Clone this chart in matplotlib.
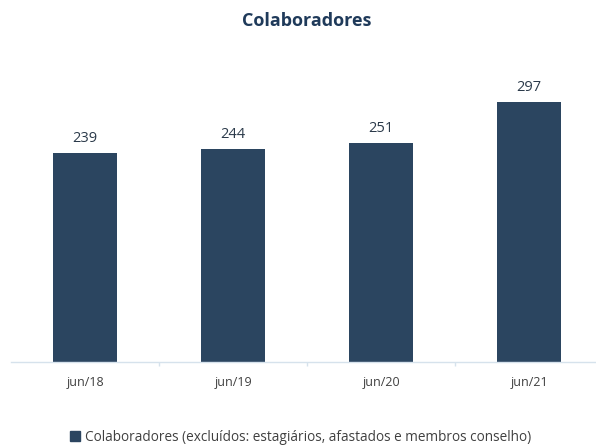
import matplotlib
matplotlib.use("Agg")
import matplotlib.pyplot as plt
from matplotlib.patches import Patch

# dados
categorias = ['jun/18', 'jun/19', 'jun/20', 'jun/21']
colaboradores = [239, 244, 251, 297]

cor_barra = '#2B4560'
cor_texto = '#404040'

plt.rcParams['font.family'] = ['Open Sans', 'DejaVu Sans']

fig = plt.figure(figsize=(5.96, 4.48), dpi=100)
ax = fig.add_axes([11 / 596, 1 - 362 / 448, 592 / 596, (362 - 56) / 448])

x = range(len(categorias))
barras = ax.bar(x, colaboradores, width=0.43, color=cor_barra, zorder=2)

for xi, v in zip(x, colaboradores):
    ax.text(xi, v + 8, str(v), ha='center', va='bottom', fontsize=10.5, color='#2B3A4A')

ax.set_xlim(-0.5, 3.5)
ax.set_ylim(0, 350)

# eixo
for s in ['top', 'right', 'left']:
    ax.spines[s].set_visible(False)
ax.spines['bottom'].set_color('#D6E2EC')
ax.spines['bottom'].set_linewidth(1.0)
ax.set_yticks([])

ax.set_xticks([0.5, 1.5, 2.5], minor=False)
ax.set_xticklabels([])
ax.tick_params(axis='x', which='major', length=3, color='#D6E2EC', width=1)
ax.set_xticks(list(x), minor=True)
ax.set_xticklabels(categorias, minor=True, fontsize=9, color=cor_texto)
ax.tick_params(axis='x', which='minor', length=0, pad=10)

fig.text(307 / 596, 1 - 21 / 448, 'Colaboradores', ha='center', va='center',
         fontsize=13, fontweight='bold', color='#1F3A5A')

fig.legend(handles=[Patch(color=cor_barra)],
           labels=['Colaboradores (excluídos: estagiários, afastados e membros conselho)'],
           loc='center', bbox_to_anchor=(0.505, 1 - 437 / 448), frameon=False,
           fontsize=9.8, handlelength=0.7, handleheight=0.7, handletextpad=0.4,
           labelcolor=cor_texto)

fig.savefig('out.png', dpi=100)
